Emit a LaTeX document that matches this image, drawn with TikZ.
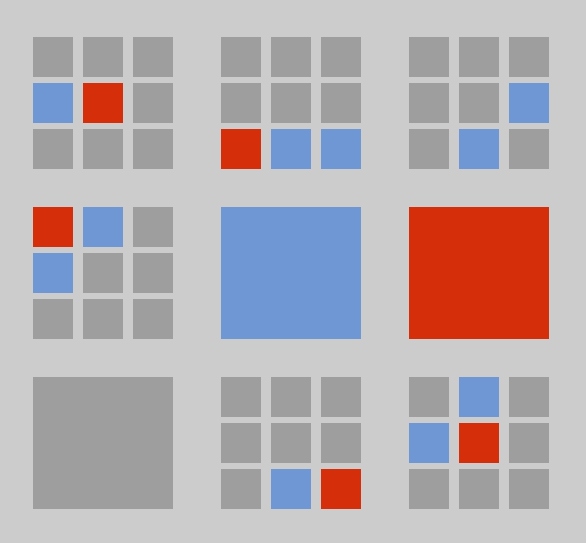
\documentclass[tikz,border=0pt]{standalone}
\definecolor{bgc}{HTML}{CCCCCC}
\definecolor{tg}{HTML}{9E9E9E}
\definecolor{tb}{HTML}{6F97D3}
\definecolor{tr}{HTML}{D52E0B}
\begin{document}
\begin{tikzpicture}[x=1pt,y=-1pt]
\fill[bgc] (0,0) rectangle (586,543);
% panels of 3x3 tiles, 40x40, step 50 across and 46 down
\foreach \px/\py/\cols in {33/37/{tg,tg,tg,tb,tr,tg,tg,tg,tg},221/37/{tg,tg,tg,tg,tg,tg,tr,tb,tb},
  409/37/{tg,tg,tg,tg,tg,tb,tg,tb,tg},33/207/{tr,tb,tg,tb,tg,tg,tg,tg,tg},
  221/377/{tg,tg,tg,tg,tg,tg,tg,tb,tr},409/377/{tg,tb,tg,tb,tr,tg,tg,tg,tg}}
  \foreach \c [count=\i from 0] in \cols {
    \pgfmathsetmacro\tx{\px+50*mod(\i,3)}
    \pgfmathsetmacro\ty{\py+46*int(\i/3)}
    \fill[\c] (\tx,\ty) rectangle ++(40,40);
  }
% single big panels
\fill[tb] (221,207) rectangle ++(140,132);
\fill[tr] (409,207) rectangle ++(140,132);
\fill[tg] (33,377) rectangle ++(140,132);
\end{tikzpicture}
\end{document}
